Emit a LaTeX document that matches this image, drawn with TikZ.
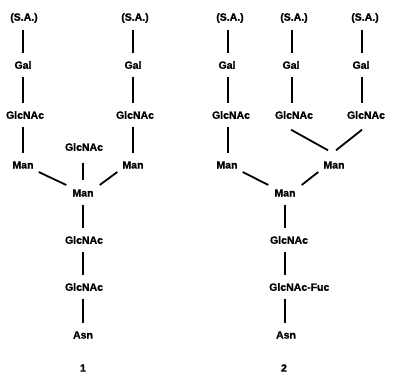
\documentclass[tikz,border=0pt]{standalone}
\usepackage{fontspec}
\setmainfont{Liberation Sans}
\newfontfamily\heavysans{Liberation Sans Bold}[FakeBold=1.2]
\begin{document}
\begin{tikzpicture}[x=1pt,y=-1pt,
  sugar/.style={font=\heavysans\fontsize{10.5}{12}\selectfont, inner sep=0pt, minimum height=23pt, minimum width=16pt},
  bond/.style={line width=1.8pt}]
\useasboundingbox (0,0) rectangle (394,382);
% ---------- structure 1 ----------
\node[sugar] (saA) at (24,18) {(S.A.)};
\node[sugar] (galA) at (23,65) {Gal};
\node[sugar] (glcA) at (25,115) {GlcNAc};
\node[sugar] (manA) at (23,165) {Man};
\node[sugar] (saB) at (135,18) {(S.A.)};
\node[sugar] (galB) at (133,65) {Gal};
\node[sugar] (glcB) at (135,115) {GlcNAc};
\node[sugar] (manB) at (133,165) {Man};
\node[sugar] (glcM) at (84,147) {GlcNAc};
\node[sugar] (manC) at (83,193) {Man};
\node[sugar] (glc1a) at (84,240) {GlcNAc};
\node[sugar] (glc1b) at (84,287) {GlcNAc};
\node[sugar] (asn1) at (83,335) {Asn};
\node[sugar] (lab1) at (83,368) {1};
\draw[bond] (saA.south -| 23,0) -- (galA.north -| 23,0);
\draw[bond] (galA.south -| 23,0) -- (glcA.north -| 23,0);
\draw[bond] (glcA.south -| 23,0) -- (manA.north -| 23,0);
\draw[bond] (saB.south -| 133,0) -- (galB.north -| 133,0);
\draw[bond] (galB.south -| 133,0) -- (glcB.north -| 133,0);
\draw[bond] (glcB.south -| 133,0) -- (manB.north -| 133,0);
\draw[bond] ([yshift=-4pt]glcM.south -| manC) -- ([yshift=1pt]manC.north);
\draw[bond] (manA.east) ++(5,7) coordinate (ma1) (manC.west) ++(-6,-8) coordinate (mc1);
\draw[bond] (ma1) -- (mc1);
\draw[bond] (manB.west) ++(-5,7) coordinate (mb1) (manC.east) ++(6,-8) coordinate (mc2);
\draw[bond] (mb1) -- (mc2);
\draw[bond] (manC.south) -- (glc1a.north -| manC);
\draw[bond] (glc1a.south -| manC) -- (glc1b.north -| manC);
\draw[bond] (glc1b.south -| manC) -- (asn1.north);
% ---------- structure 2 ----------
\node[sugar] (saC) at (230,18) {(S.A.)};
\node[sugar] (galC) at (227,65) {Gal};
\node[sugar] (glcC) at (231,115) {GlcNAc};
\node[sugar] (manD) at (227,165) {Man};
\node[sugar] (saD) at (294,18) {(S.A.)};
\node[sugar] (galD) at (291,65) {Gal};
\node[sugar] (glcD) at (294,115) {GlcNAc};
\node[sugar] (saE) at (365,18) {(S.A.)};
\node[sugar] (galE) at (361,65) {Gal};
\node[sugar] (glcE) at (366,115) {GlcNAc};
\node[sugar] (manE) at (334,165) {Man};
\node[sugar] (manF) at (285,193) {Man};
\node[sugar] (glc2a) at (289,240) {GlcNAc};
\node[sugar, anchor=west] (glc2b) at (269,287) {GlcNAc-Fuc};
\node[sugar] (asn2) at (286,335) {Asn};
\node[sugar] (lab2) at (284,368) {2};
\draw[bond] (saC.south -| 228,0) -- (galC.north -| 228,0);
\draw[bond] (galC.south -| 228,0) -- (glcC.north -| 228,0);
\draw[bond] (glcC.south -| 228,0) -- (manD.north -| 228,0);
\draw[bond] (saD.south -| 292,0) -- (galD.north -| 292,0);
\draw[bond] (galD.south -| 292,0) -- (glcD.north -| 292,0);
\draw[bond] (saE.south -| 362,0) -- (galE.north -| 362,0);
\draw[bond] (galE.south -| 362,0) -- (glcE.north -| 362,0);
\draw[bond] ([xshift=-3pt,yshift=-3pt]glcD.south) -- ([xshift=-6pt,yshift=3pt]manE.north);
\draw[bond] ([xshift=-4pt,yshift=-3pt]glcE.south) -- ([xshift=2pt,yshift=3pt]manE.north);
\draw[bond] (manD.east) ++(5,7) coordinate (md1) (manF.west) ++(-6,-8) coordinate (mf1);
\draw[bond] (md1) -- (mf1);
\draw[bond] (manE.west) ++(-5,7) coordinate (me1) (manF.east) ++(6,-8) coordinate (mf2);
\draw[bond] (me1) -- (mf2);
\draw[bond] (manF.south) -- (glc2a.north -| manF);
\draw[bond] (glc2a.south -| manF) -- (glc2b.north -| manF);
\draw[bond] (glc2b.south -| manF) -- (asn2.north -| manF);
\end{tikzpicture}
\end{document}
